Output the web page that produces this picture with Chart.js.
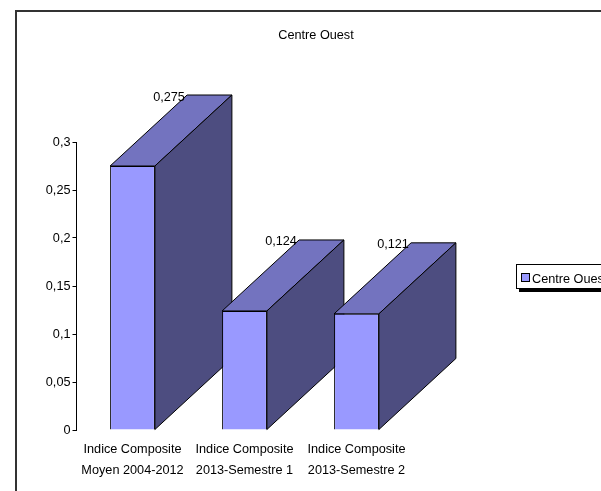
<!DOCTYPE html>
<html>
<head>
<meta charset="utf-8">
<style>
  html, body { margin: 0; padding: 0; background: #fff; overflow: hidden; }
  canvas { display: block; }
</style>
<script src="https://cdn.jsdelivr.net/npm/chart.js@4/dist/chart.umd.js"></script>
</head>
<body>
<canvas id="chart" width="601" height="491"></canvas>
<script>
// Values
const categories = [
    ['Indice Composite', 'Moyen 2004-2012'],
    ['Indice Composite', '2013-Semestre 1'],
    ['Indice Composite', '2013-Semestre 2']
];
const seriesName = 'Centre Ouest';
const seriesValues = [0.275, 0.124, 0.121];
const yTicks = [0, 0.05, 0.1, 0.15, 0.2, 0.25, 0.3];

const FAMILY = '"Liberation Sans", Arial, sans-serif';
const FONT_SIZE = 12.7;
const FONT = FONT_SIZE + 'px ' + FAMILY;
const DEPTH_X = 77;
const DEPTH_Y = 71;

function frenchNumber(v) {
    return String(+v.toFixed(3)).replace('.', ',');
}

function face(ctx, points, color) {
    ctx.beginPath();
    points.forEach((p, i) => i ? ctx.lineTo(p[0], p[1]) : ctx.moveTo(p[0], p[1]));
    ctx.closePath();
    ctx.fillStyle = color;
    ctx.fill();
    ctx.lineWidth = 1;
    ctx.strokeStyle = '#000';
    ctx.stroke();
}

// outer frame of the sheet, title and the clipped legend box
const framePlugin = {
    id: 'frame',
    beforeDraw(chart) {
        const ctx = chart.ctx;
        ctx.save();
        ctx.strokeStyle = '#333';
        ctx.lineWidth = 2;
        ctx.beginPath();
        ctx.moveTo(16, 491);
        ctx.lineTo(16, 11);
        ctx.lineTo(601, 11);
        ctx.stroke();

        ctx.fillStyle = '#000';
        ctx.font = FONT;
        ctx.textAlign = 'center';
        ctx.textBaseline = 'middle';
        ctx.fillText(seriesName, 316, 35);

        // legend with its hard shadow
        ctx.fillRect(519, 267, 90, 25);
        ctx.fillStyle = '#fff';
        ctx.strokeStyle = '#000';
        ctx.lineWidth = 1;
        ctx.fillRect(516.5, 264.5, 90, 24);
        ctx.strokeRect(516.5, 264.5, 90, 24);
        ctx.fillStyle = '#9999ff';
        ctx.fillRect(521.5, 273.5, 8, 8);
        ctx.strokeRect(521.5, 273.5, 8, 8);
        ctx.fillStyle = '#000';
        ctx.textAlign = 'left';
        ctx.fillText(seriesName, 532, 279);
        ctx.restore();
    }
};

// side and top faces behind the bars the library draws
const depthPlugin = {
    id: 'depth',
    beforeDatasetsDraw(chart) {
        const ctx = chart.ctx;
        ctx.save();
        chart.getDatasetMeta(0).data.forEach(bar => {
            const left = bar.x - bar.width / 2;
            const right = bar.x + bar.width / 2;
            face(ctx, [
                [left, bar.y],
                [left + DEPTH_X, bar.y - DEPTH_Y],
                [right + DEPTH_X, bar.y - DEPTH_Y],
                [right, bar.y]
            ], '#7373bf');
            face(ctx, [
                [right, bar.y],
                [right + DEPTH_X, bar.y - DEPTH_Y],
                [right + DEPTH_X, bar.base - DEPTH_Y],
                [right, bar.base]
            ], '#4d4d80');
        });
        ctx.restore();
    },
    afterDatasetsDraw(chart) {
        const ctx = chart.ctx;
        ctx.save();
        ctx.fillStyle = '#000';
        ctx.font = FONT;
        ctx.textAlign = 'center';
        ctx.textBaseline = 'middle';
        chart.getDatasetMeta(0).data.forEach((bar, i) => {
            ctx.fillText(frenchNumber(seriesValues[i]), bar.x + DEPTH_X / 2 - 2, bar.y - DEPTH_Y + 2);
        });
        ctx.restore();
    }
};

new Chart(document.getElementById('chart'), {
    type: 'bar',
    data: {
        labels: categories,
        datasets: [{
            label: seriesName,
            data: seriesValues,
            backgroundColor: '#9999ff',
            borderColor: '#000',
            borderWidth: 1,
            barPercentage: 0.4,
            categoryPercentage: 1
        }]
    },
    options: {
        responsive: false,
        animation: false,
        layout: { padding: { left: 0, right: 188.5, top: 142, bottom: 0 } },
        plugins: {
            legend: { display: false },
            title: { display: false },
            tooltip: { enabled: false }
        },
        scales: {
            x: {
                afterFit(scale) { scale.height = 61; },
                border: { display: false },
                grid: { display: false },
                ticks: {
                    color: '#000',
                    font: { family: FAMILY, size: FONT_SIZE, lineHeight: 1.65 },
                    maxRotation: 0,
                    autoSkip: false,
                    padding: 1
                }
            },
            y: {
                min: 0,
                max: 0.3,
                afterFit(scale) { scale.width = 76.5; },
                afterBuildTicks(scale) { scale.ticks = yTicks.map(v => ({ value: v })); },
                border: { display: true, color: '#000', width: 1 },
                grid: { drawOnChartArea: false, drawTicks: true, tickLength: 4, color: '#000' },
                ticks: {
                    color: '#000',
                    font: { family: FAMILY, size: FONT_SIZE },
                    padding: 2,
                    callback: v => frenchNumber(v)
                }
            }
        }
    },
    plugins: [framePlugin, depthPlugin]
});
</script>
</body>
</html>
